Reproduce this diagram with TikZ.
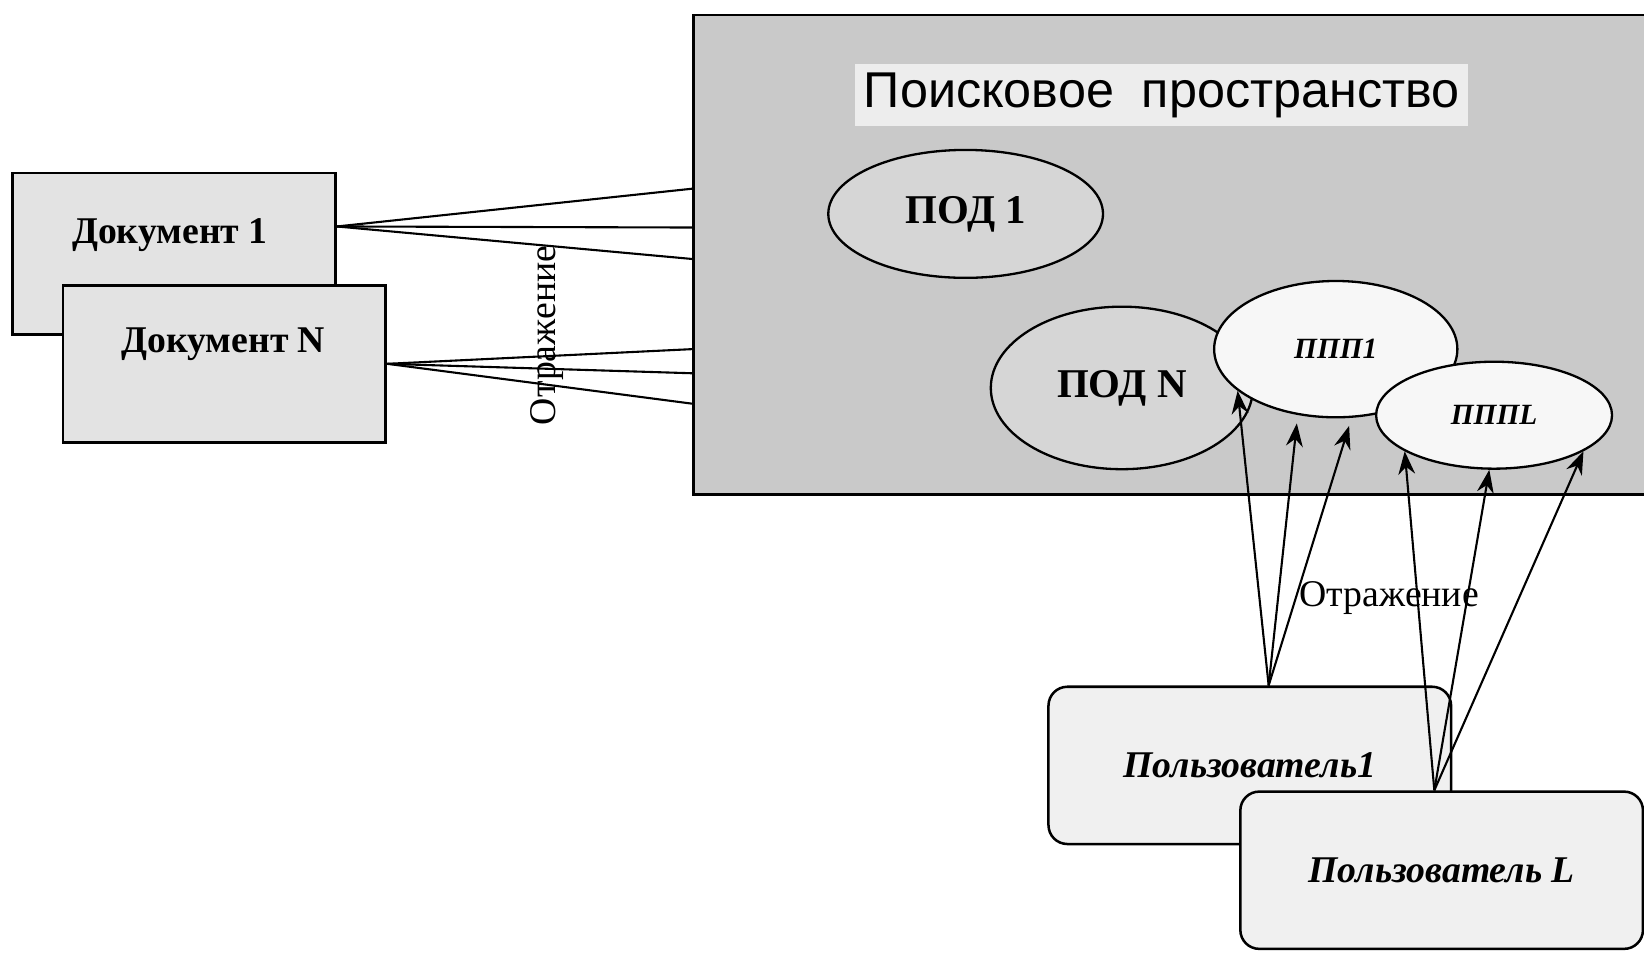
\documentclass[tikz,border=0pt]{standalone}
\usepackage{fontspec}
\setmainfont{Liberation Serif}
\newfontfamily\titlefont{Liberation Sans}
\usetikzlibrary{shapes.geometric, arrows.meta}

\begin{document}
\begin{tikzpicture}[x=0.5pt, y=-0.5pt,
	docbox/.style={draw, line width=1.3pt, fill=gray!22, minimum width=154pt, minimum height=77pt, inner sep=0pt},
	doctext/.style={font=\fontsize{18}{20}\selectfont\bfseries},
	pod/.style={ellipse, draw, line width=1.1pt, fill=gray!32, inner sep=0pt, font=\fontsize{19.5}{22}\selectfont\bfseries},
	ppp/.style={ellipse, draw, line width=1.1pt, fill=gray!6, inner sep=0pt, font=\fontsize{14}{16}\selectfont\bfseries\itshape},
	userbox/.style={draw, line width=1.2pt, rounded corners=9pt, fill=gray!12, minimum width=192pt, minimum height=75pt, font=\fontsize{18}{20}\selectfont\bfseries\itshape},
	reflect/.style={font=\fontsize{18}{20}\selectfont, inner sep=1pt},
	reflarrow/.style={draw, line width=1pt, -{Stealth[length=11pt,width=8pt]}}]
	\useasboundingbox (0,0) rectangle (1568,909);
	
	% search space
	\node[draw, line width=1.3pt, fill=gray!42, anchor=north west, minimum width=480pt, minimum height=228.5pt] (space) at (660,13) {};
	\node[fill=gray!14, inner sep=4pt, font=\titlefont\fontsize{24}{27}\selectfont] (title) at (1108,91) {Поисковое\ \ пространство};
	
	\node[pod, minimum width=131pt, minimum height=61pt] (pod1) at (921,204) {ПОД 1};
	\node[pod, minimum width=125pt, minimum height=77.5pt] (podN) at (1070,370) {ПОД N};
	\node[ppp, minimum width=116pt, minimum height=65pt] (ppp1) at (1274,333) {ППП1};
	\node[ppp, minimum width=112.5pt, minimum height=51pt] (pppL) at (1425,396) {ПППL};
	
	% documents
	\node[docbox] (doc1) at (166,242) {};
	\node[doctext] (doc1t) at (162,224) {Документ 1};
	\node[docbox, minimum height=75pt] (docN) at (214,347) {};
	\node[doctext] (docNt) at (213,328) {Документ N};
	
	\coordinate (s1) at (660,180);
	\coordinate (s2) at (660,217);
	\coordinate (s3) at (660,247);
	\coordinate (s4) at (660,333);
	\coordinate (s5) at (660,356);
	\coordinate (s6) at (660,385);
	
	\path[line width=1pt]
	([yshift=13pt]doc1.east) edge (s1)
	([yshift=13pt]doc1.east) edge (s2)
	([yshift=13pt]doc1.east) edge (s3)
	(docN.east) edge (s4)
	(docN.east) edge (s5)
	(docN.east) edge (s6);
	
	\node[reflect, rotate=90] (refl1) at (522,320) {Отражение};
	
	% users
	\node[userbox] (user1) at (1192,730) {Пользователь1};
	\node[userbox] (userL) at (1375,830) {Пользователь L};
	
	\node[reflect] (refl2) at (1325,570) {Отражение};
	
	\path
	([xshift=9pt]user1.north) edge[reflarrow] (ppp1.203)
	([xshift=9pt]user1.north) edge[reflarrow, shorten >=4pt] (ppp1.240)
	([xshift=9pt]user1.north) edge[reflarrow, shorten >=4pt] (ppp1.283)
	([xshift=-3.5pt]userL.north) edge[reflarrow] (pppL.202)
	([xshift=-3.5pt]userL.north) edge[reflarrow] (pppL.265)
	([xshift=-3.5pt]userL.north) edge[reflarrow] (pppL.338);
\end{tikzpicture}
\end{document}
